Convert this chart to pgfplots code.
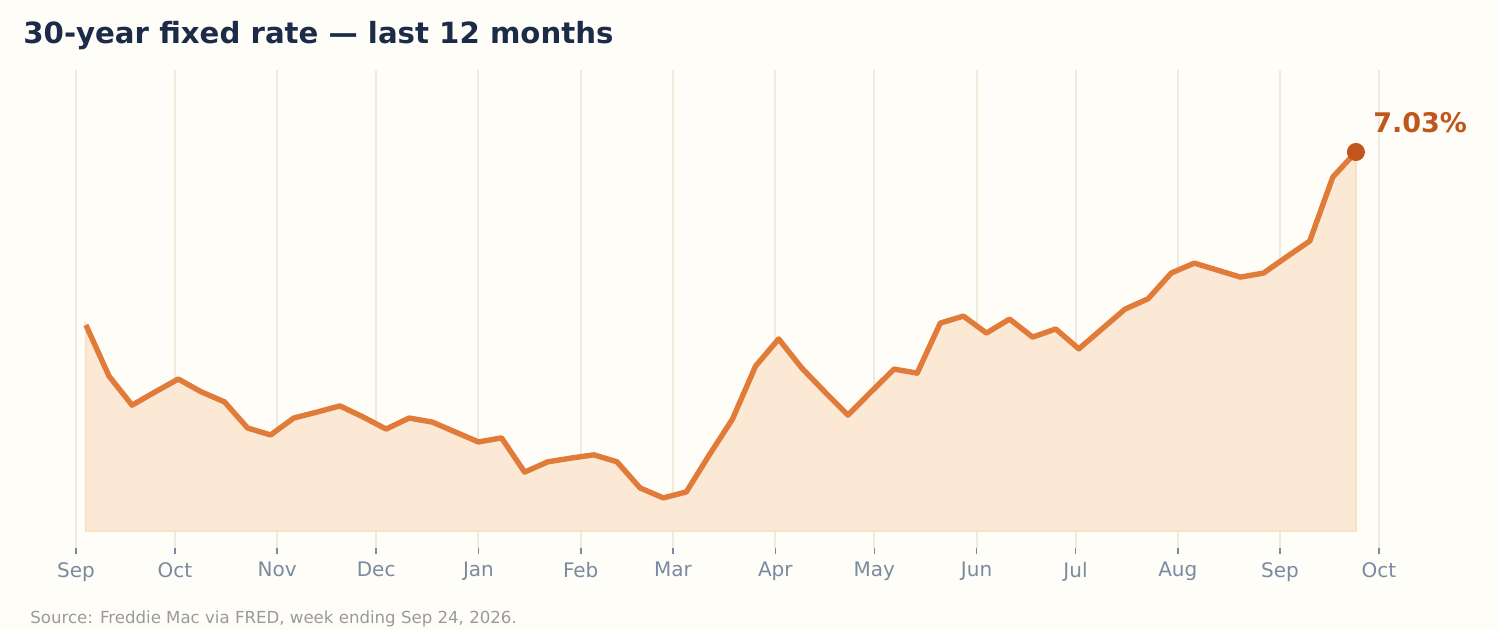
\documentclass[border=0pt]{standalone}
\usepackage{pgfplots}
\pgfplotsset{compat=1.18}
\usepackage{pgfplotstable}
\usepackage{fontspec}
\setmainfont{DejaVu Sans}
\definecolor{bg}{HTML}{FFFDF8}
\definecolor{gridc}{HTML}{F0E9DC}
\definecolor{lineo}{HTML}{E07B39}
\definecolor{fillc}{HTML}{FBE9D6}
\definecolor{filledge}{HTML}{F9E1C8}
\definecolor{dot}{HTML}{C0561C}
\definecolor{tickc}{HTML}{7A8AA0}
\definecolor{titlec}{HTML}{1B2B48}
\definecolor{srcc}{HTML}{9A9A9A}

\pgfplotstableread{
day rate
3 6.560
10 6.421
17 6.342
24 6.378
31 6.413
38 6.378
45 6.351
52 6.280
59 6.261
66 6.307
73 6.323
80 6.340
87 6.310
94 6.277
101 6.307
108 6.296
115 6.269
122 6.242
129 6.253
136 6.160
143 6.188
150 6.198
157 6.207
164 6.188
171 6.117
178 6.090
185 6.106
192 6.207
199 6.304
206 6.448
213 6.522
220 6.443
227 6.378
234 6.315
241 6.378
248 6.440
255 6.429
262 6.565
269 6.584
276 6.538
283 6.576
290 6.527
297 6.549
304 6.495
311 6.549
318 6.603
325 6.631
332 6.701
339 6.728
346 6.709
353 6.690
360 6.701
367 6.745
374 6.788
381 6.962
388 7.030
}\ratedata

\begin{document}
\begin{tikzpicture}
\fill[bg] (0,0) rectangle (750pt,315pt);
\node[anchor=base west, inner sep=0pt, text=titlec, font=\fontsize{14.6}{17}\selectfont\bfseries] at (11.5pt,293pt) {30-year fixed rate — last 12 months};
\node[anchor=base west, inner sep=0pt, text=srcc, font=\fontsize{8.3}{10}\selectfont] at (15pt,3pt) {Source: Freddie Mac via FRED, week ending Sep 24, 2026.};
\begin{axis}[
  at={(38pt,41pt)}, anchor=south west,
  scale only axis, width=651.5pt, height=239pt,
  xmin=0, xmax=395, ymin=5.9538, ymax=7.2529,
  clip=false,
  axis line style={draw=none},
  ytick=\empty,
  xtick={0,30,61,91,122,153,181,212,242,273,303,334,365,395},
  xticklabels={Sep,Oct,Nov,Dec,Jan,Feb,Mar,Apr,May,Jun,Jul,Aug,Sep,Oct},
  xtick pos=left,
  tick align=outside,
  major tick length=3pt,
  tick style={tickc, line width=0.8pt},
  xmajorgrids,
  grid style={gridc, line width=1pt},
  xticklabel style={text=tickc, font=\fontsize{10}{12}\selectfont, anchor=north, inner sep=0pt, yshift=-4pt},
]
\addplot[fill=fillc, draw=filledge, line width=1pt, forget plot] table[x=day,y=rate] {\ratedata} -- (axis cs:388,6.0) -- (axis cs:3,6.0) -- cycle;
\addplot[lineo, line width=2.7pt, line join=round] table[x=day,y=rate] {\ratedata};
\addplot[only marks, mark=*, mark size=4.3pt, draw=dot, fill=dot] coordinates {(388,7.03)};
\node[anchor=base west, inner sep=0pt, text=dot, font=\fontsize{13.5}{16}\selectfont\bfseries, xshift=8.5pt, yshift=10pt] at (axis cs:388,7.03) {7.03\%};
\end{axis}
\pgfresetboundingbox
\useasboundingbox (0,0) rectangle (750pt,315pt);
\end{tikzpicture}
\end{document}
